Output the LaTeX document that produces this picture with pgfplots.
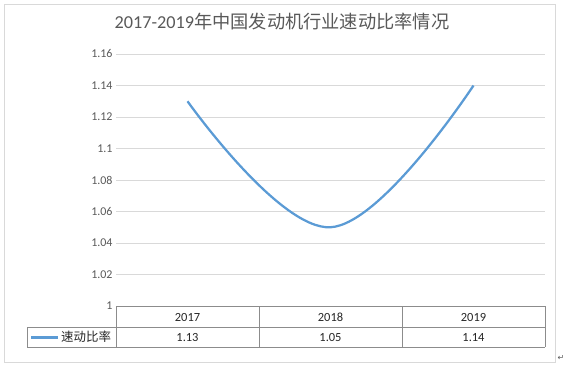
\documentclass[border=0pt]{standalone}
\usepackage{pgfplots}
\pgfplotsset{compat=1.18}
\usepackage{fontspec}
\setmainfont{Carlito}
\newfontfamily\cjk{Noto Sans CJK SC}
\newfontfamily\dejavu{DejaVu Sans}
\definecolor{linec}{HTML}{5B9BD5}
\definecolor{gridc}{HTML}{D9D9D9}
\definecolor{txt}{HTML}{595959}
\definecolor{tabc}{HTML}{8C8C8C}
\definecolor{tabtxt}{HTML}{262626}
\begin{document}
\begin{tikzpicture}
\path[use as bounding box] (0,0) rectangle (565bp,-367bp);
\draw[gridc, line width=0.75bp] (4bp,-4bp) rectangle (555bp,-362bp);
\node[txt, font=\fontsize{18.3}{21}\selectfont, inner sep=0pt] at (282bp,-22bp) {2017-2019{\cjk 年中国发动机行业速动比率情况}};
\begin{axis}[
  at={(116bp,-306bp)}, anchor=south west,
  scale only axis, width=429bp, height=252bp,
  xmin=-0.5, xmax=2.5, ymin=1, ymax=1.16,
  xtick=\empty,
  ytick={1,1.02,1.04,1.06,1.08,1.1,1.12,1.14,1.16},
  ymajorgrids, grid style={gridc, line width=0.75bp},
  axis line style={draw=none}, major tick length=0pt,
  yticklabel style={txt, font=\fontsize{12}{14}\selectfont,
    /pgf/number format/fixed, /pgf/number format/precision=2,
    /pgf/number format/assume math mode=true},
]
\addplot[linec, line width=2.25bp, smooth, tension=0.65] coordinates {(0,1.13) (1,1.05) (2,1.14)};
\end{axis}
% data table
\begin{scope}[tabc, line width=0.75bp]
\draw (116bp,-306bp) -- (545bp,-306bp);
\draw (27bp,-327bp) -- (545bp,-327bp);
\draw (27bp,-347bp) -- (545bp,-347bp);
\draw (27bp,-327bp) -- (27bp,-347bp);
\draw (116bp,-306bp) -- (116bp,-347bp);
\draw (259bp,-306bp) -- (259bp,-347bp);
\draw (402bp,-306bp) -- (402bp,-347bp);
\draw (545bp,-306bp) -- (545bp,-347bp);
\end{scope}
\begin{scope}[every node/.style={tabtxt, font=\fontsize{12.5}{14}\selectfont, inner sep=0pt}]
\node at (187.5bp,-317bp) {2017};
\node at (330.5bp,-317bp) {2018};
\node at (473.5bp,-317bp) {2019};
\node at (187.5bp,-337.5bp) {1.13};
\node at (330.5bp,-337.5bp) {1.05};
\node at (473.5bp,-337.5bp) {1.14};
\node[anchor=west] at (61bp,-337bp) {\cjk 速动比率};
\end{scope}
\draw[linec, line width=2.25bp] (31bp,-337.5bp) -- (58bp,-337.5bp);
\node[txt, font=\dejavu\fontsize{8}{9}\selectfont, inner sep=0pt] at (561bp,-358bp) {↵};
\end{tikzpicture}
\end{document}
